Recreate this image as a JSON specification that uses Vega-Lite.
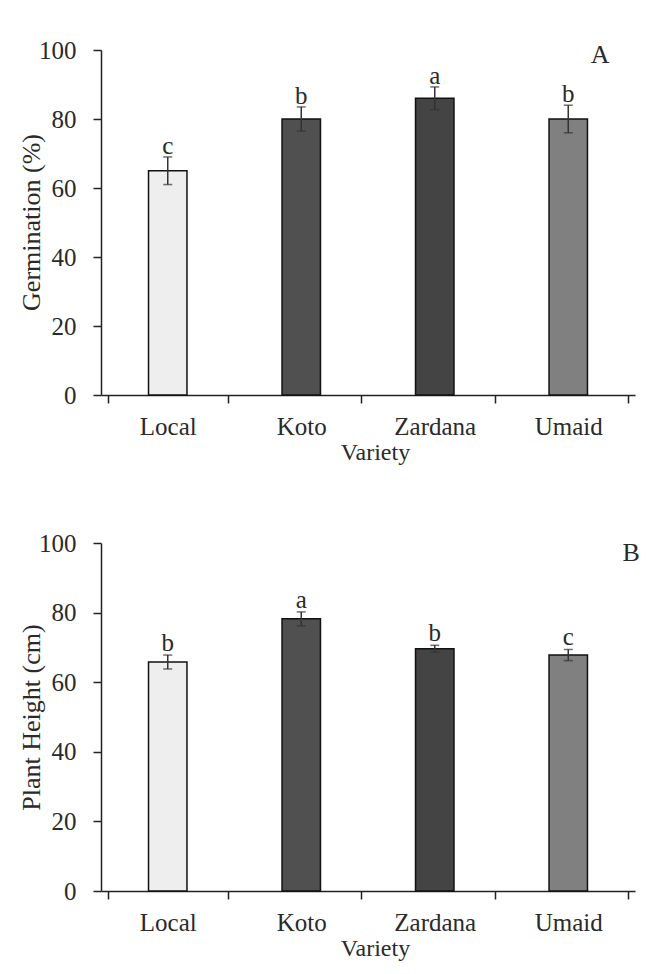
{
  "$schema": "https://vega.github.io/schema/vega-lite/v6.json",
  "background": "white",
  "padding": {"top": 38, "left": 18, "right": 5, "bottom": 5},
  "spacing": 67,
  "config": {
    "view": {"stroke": null},
    "font": "Liberation Serif",
    "text": {"font": "Liberation Serif"},
    "axis": {
      "labelFont": "Liberation Serif",
      "titleFont": "Liberation Serif",
      "labelFontSize": 25,
      "titleFontWeight": "normal",
      "labelColor": "#2a2a2a",
      "titleColor": "#2a2a2a",
      "domainColor": "#222222",
      "domainWidth": 1.5,
      "tickColor": "#222222",
      "tickWidth": 1.5,
      "tickSize": 8,
      "grid": false
    },
    "axisX": {"labelAngle": 0, "tickBand": "extent", "labelPadding": 11, "titleFontSize": 24, "titlePadding": 1},
    "axisY": {"labelPadding": 17, "titleFontSize": 26}
  },
  "datasets": {
    "germination": [
      {"variety": "Local", "value": 65, "lower": 61, "upper": 69, "letter": "c"},
      {"variety": "Koto", "value": 80, "lower": 76.5, "upper": 83.5, "letter": "b"},
      {"variety": "Zardana", "value": 86, "lower": 82.7, "upper": 89.3, "letter": "a"},
      {"variety": "Umaid", "value": 80, "lower": 76, "upper": 84, "letter": "b"}
    ],
    "height": [
      {"variety": "Local", "value": 65.8, "lower": 63.8, "upper": 67.8, "letter": "b"},
      {"variety": "Koto", "value": 78.2, "lower": 76.2, "upper": 80.2, "letter": "a"},
      {"variety": "Zardana", "value": 69.6, "lower": 68.6, "upper": 70.6, "letter": "b"},
      {"variety": "Umaid", "value": 67.8, "lower": 66.2, "upper": 69.4, "letter": "c"}
    ]
  },
  "vconcat": [
    {
      "width": 534,
      "height": 345,
      "data": {"name": "germination"},
      "layer": [
        {
          "mark": {"type": "bar", "width": {"band": 0.32}, "stroke": "#111111", "strokeWidth": 1.5},
          "encoding": {
            "x": {"field": "variety", "type": "nominal", "scale": {"domain": ["Local", "Koto", "Zardana", "Umaid"]}, "title": "Variety", "axis": {"titleX": 274}},
            "y": {"field": "value", "type": "quantitative", "scale": {"domain": [0, 100], "nice": false}, "title": "Germination (%)", "axis": {"titleX": -57, "titleY": 172, "values": [0, 20, 40, 60, 80, 100]}},
            "fill": {"field": "variety", "type": "nominal", "scale": {"domain": ["Local", "Koto", "Zardana", "Umaid"], "range": ["#eeeeee", "#505050", "#444444", "#808080"]}, "legend": null}
          }
        },
        {
          "mark": {"type": "errorbar", "ticks": true, "size": 9, "thickness": 1.5, "color": "#333333"},
          "encoding": {
            "x": {"field": "variety", "type": "nominal"},
            "y": {"field": "lower", "type": "quantitative", "title": "Germination (%)"},
            "y2": {"field": "upper"}
          }
        },
        {
          "mark": {"type": "text", "baseline": "alphabetic", "dy": -3, "fontSize": 25, "color": "#2a2a2a"},
          "encoding": {
            "x": {"field": "variety", "type": "nominal"},
            "y": {"field": "upper", "type": "quantitative", "title": "Germination (%)"},
            "text": {"field": "letter"}
          }
        },
        {
          "data": {"values": [{"panel": "A"}]},
          "mark": {"type": "text", "baseline": "middle", "dx": 32, "fontSize": 26, "color": "#2a2a2a"},
          "encoding": {
            "x": {"datum": "Umaid", "type": "nominal"},
            "y": {"datum": 98.5, "type": "quantitative"},
            "text": {"field": "panel"}
          }
        }
      ]
    },
    {
      "width": 534,
      "height": 348,
      "data": {"name": "height"},
      "layer": [
        {
          "mark": {"type": "bar", "width": {"band": 0.32}, "stroke": "#111111", "strokeWidth": 1.5},
          "encoding": {
            "x": {"field": "variety", "type": "nominal", "scale": {"domain": ["Local", "Koto", "Zardana", "Umaid"]}, "title": "Variety", "axis": {"titleX": 274}},
            "y": {"field": "value", "type": "quantitative", "scale": {"domain": [0, 100], "nice": false}, "title": "Plant Height (cm)", "axis": {"titleX": -57, "titleY": 174, "values": [0, 20, 40, 60, 80, 100]}},
            "fill": {"field": "variety", "type": "nominal", "scale": {"domain": ["Local", "Koto", "Zardana", "Umaid"], "range": ["#eeeeee", "#505050", "#444444", "#808080"]}, "legend": null}
          }
        },
        {
          "mark": {"type": "errorbar", "ticks": true, "size": 9, "thickness": 1.5, "color": "#333333"},
          "encoding": {
            "x": {"field": "variety", "type": "nominal"},
            "y": {"field": "lower", "type": "quantitative", "title": "Plant Height (cm)"},
            "y2": {"field": "upper"}
          }
        },
        {
          "mark": {"type": "text", "baseline": "alphabetic", "dy": -4, "fontSize": 25, "color": "#2a2a2a"},
          "encoding": {
            "x": {"field": "variety", "type": "nominal"},
            "y": {"field": "upper", "type": "quantitative", "title": "Plant Height (cm)"},
            "text": {"field": "letter"}
          }
        },
        {
          "data": {"values": [{"panel": "B"}]},
          "mark": {"type": "text", "baseline": "middle", "dx": 63, "fontSize": 26, "color": "#2a2a2a"},
          "encoding": {
            "x": {"datum": "Umaid", "type": "nominal"},
            "y": {"datum": 97.1, "type": "quantitative"},
            "text": {"field": "panel"}
          }
        }
      ]
    }
  ]
}
